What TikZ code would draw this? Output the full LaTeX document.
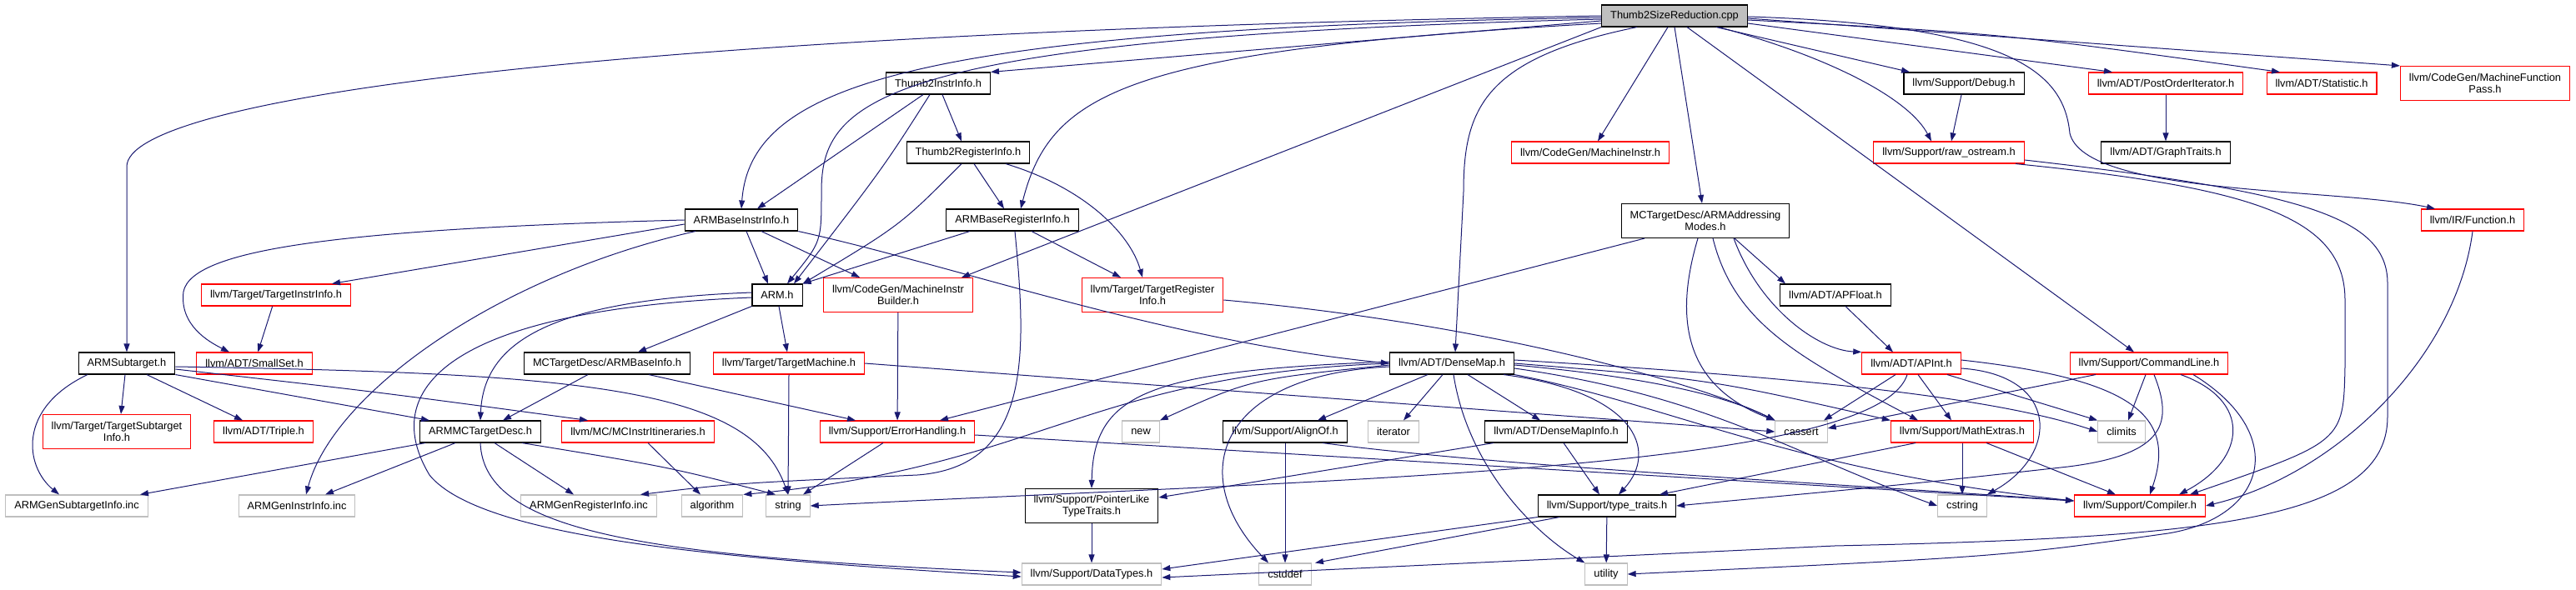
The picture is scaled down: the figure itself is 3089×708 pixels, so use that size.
\documentclass[tikz,border=0pt]{standalone}
\usepackage{fontspec}
\setmainfont{Liberation Sans}
\usetikzlibrary{arrows.meta}
\definecolor{edgeblue}{HTML}{191970}
\definecolor{sysgray}{HTML}{BFBFBF}

\begin{document}
\begin{tikzpicture}[x=1pt,y=-1pt,
	hdr/.style={draw=black,line width=1.1pt,rectangle,minimum height=26pt,inner xsep=10.5pt,inner ysep=0pt,align=center,font=\fontsize{12.8pt}{14pt}\selectfont},
	trunc/.style={hdr,draw=red},
	syshdr/.style={hdr,draw=sysgray},
	root/.style={hdr,fill=sysgray},
	twoline/.style={minimum height=41pt},
	dep/.style={draw=edgeblue,line width=1pt,-{Triangle[length=10pt,width=7pt]}}]
	\useasboundingbox (0,0) rectangle (3089,708);

	\node[root] (T) at (2008,19) {Thumb2SizeReduction.cpp};
	\node[hdr] (t2ii) at (1125,100) {Thumb2InstrInfo.h};
	\node[hdr] (dbg) at (2355,100) {llvm/Support/Debug.h};
	\node[trunc] (poi) at (2597,100) {llvm/ADT/PostOrderIterator.h};
	\node[trunc] (stat) at (2784,100) {llvm/ADT/Statistic.h};
	\node[trunc,twoline] (mfp) at (2980,100) {llvm/CodeGen/MachineFunction\\Pass.h};
	\node[hdr] (t2ri) at (1161,183) {Thumb2RegisterInfo.h};
	\node[trunc] (mi) at (1907,183) {llvm/CodeGen/MachineInstr.h};
	\node[trunc] (raw) at (2337,183) {llvm/Support/raw\_ostream.h};
	\node[hdr] (gt) at (2597,183) {llvm/ADT/GraphTraits.h};
	\node[hdr] (bii) at (889,264) {ARMBaseInstrInfo.h};
	\node[hdr] (bri) at (1214,264) {ARMBaseRegisterInfo.h};
	\node[hdr,twoline] (addr) at (2045,265) {MCTargetDesc/ARMAddressing\\Modes.h};
	\node[trunc] (fn) at (2965,264) {llvm/IR/Function.h};
	\node[trunc] (tii) at (331,354) {llvm/Target/TargetInstrInfo.h};
	\node[hdr] (arm) at (932,354) {ARM.h};
	\node[trunc,twoline] (mib) at (1077,354) {llvm/CodeGen/MachineInstr\\Builder.h};
	\node[trunc,twoline] (tri) at (1382,354) {llvm/Target/TargetRegister\\Info.h};
	\node[hdr] (apf) at (2201,354) {llvm/ADT/APFloat.h};
	\node[hdr] (subtgt) at (152,436) {ARMSubtarget.h};
	\node[trunc] (smallset) at (305,436) {llvm/ADT/SmallSet.h};
	\node[hdr] (binfo) at (728,436) {MCTargetDesc/ARMBaseInfo.h};
	\node[trunc] (tm) at (946,436) {llvm/Target/TargetMachine.h};
	\node[hdr] (dmap) at (1741,436) {llvm/ADT/DenseMap.h};
	\node[trunc] (apint) at (2292,436) {llvm/ADT/APInt.h};
	\node[trunc] (cl) at (2577,436) {llvm/Support/CommandLine.h};
	\node[trunc,twoline] (tsi) at (140,518) {llvm/Target/TargetSubtarget\\Info.h};
	\node[trunc] (triple) at (316,518) {llvm/ADT/Triple.h};
	\node[hdr] (mctd) at (576,518) {ARMMCTargetDesc.h};
	\node[trunc] (itin) at (765,518) {llvm/MC/MCInstrItineraries.h};
	\node[trunc] (eh) at (1076,518) {llvm/Support/ErrorHandling.h};
	\node[syshdr] (new) at (1368,518) {new};
	\node[hdr] (align) at (1541,518) {llvm/Support/AlignOf.h};
	\node[syshdr] (iter) at (1671,518) {iterator};
	\node[hdr] (dmi) at (1866,518) {llvm/ADT/DenseMapInfo.h};
	\node[syshdr] (cassert) at (2160,518) {cassert};
	\node[trunc] (mext) at (2353,518) {llvm/Support/MathExtras.h};
	\node[syshdr] (climits) at (2544,518) {climits};
	\node[syshdr] (gensub) at (92,607) {ARMGenSubtargetInfo.inc};
	\node[syshdr] (geninstr) at (356,607) {ARMGenInstrInfo.inc};
	\node[syshdr] (genreg) at (706,607) {ARMGenRegisterInfo.inc};
	\node[syshdr] (algo) at (854,607) {algorithm};
	\node[syshdr] (str) at (945,607) {string};
	\node[hdr,twoline] (plt) at (1309,607) {llvm/Support/PointerLike\\TypeTraits.h};
	\node[hdr] (tt) at (1927,607) {llvm/Support/type\_traits.h};
	\node[syshdr] (cstring) at (2353,607) {cstring};
	\node[trunc] (comp) at (2566,607) {llvm/Support/Compiler.h};
	\node[syshdr] (dt) at (1309,689) {llvm/Support/DataTypes.h};
	\node[syshdr] (cstddef) at (1541,689) {cstddef};
	\node[syshdr] (util) at (1926,689) {utility};

	\draw[dep] (T.west) .. controls (700,40) and (152,120) .. (152,200) -- (subtgt);
	\draw[dep] ([yshift=-2]T.west) .. controls (1100,35) and (900,100) .. (bii.north);
	\draw[dep] ([yshift=-4]T.west) .. controls (1050,45) and (985,120) .. (985,230) .. controls (985,290) .. ([xshift=12]arm.north);
	\draw[dep] ([yshift=-6]T.west) -- (t2ii.north east);
	\draw[dep] ([yshift=-9]T.west) .. controls (1350,60) and (1260,110) .. ([xshift=10]bri.north);
	\draw[dep] (T.south west) -- ([xshift=76]mib.north);
	\draw[dep] ([xshift=-45]T.south) .. controls (1780,70) and (1755,130) .. (1755,230) -- ([xshift=4]dmap.north);
	\draw[dep] ([xshift=-8]T.south) -- ([xshift=9]mi.north);
	\draw[dep] (T.south) -- ([xshift=-4]addr.north);
	\draw[dep] ([xshift=15]T.south) -- ([xshift=-18]cl.north);
	\draw[dep] ([xshift=50]T.south) -- ([xshift=-65]dbg.north);
	\draw[dep] ([xshift=53]T.south) .. controls (2200,70) and (2290,120) .. ([xshift=-21]raw.north);
	\draw[dep] ([yshift=-9]T.east) -- ([xshift=-64]poi.north);
	\draw[dep] ([yshift=-5]T.east) .. controls (2400,40) .. ([xshift=-50]stat.north);
	\draw[dep] ([yshift=-3]T.east) -- (mfp.north west);
	\draw[dep] ([yshift=-1]T.east) .. controls (2420,30) and (2475,90) .. (2482,160) .. controls (2500,235) and (2800,225) .. ([xshift=-45]fn.north);

	\draw[dep] ([xshift=-18]t2ii.south) -- ([xshift=19]bii.north);
	\draw[dep] ([xshift=-10]t2ii.south) .. controls (1060,200) .. ([xshift=20]arm.north);
	\draw[dep] ([xshift=5]t2ii.south) -- ([xshift=-8]t2ri.north);
	\draw[dep] ([xshift=-8]t2ri.south) .. controls (1080,270) .. (arm.north east);
	\draw[dep] ([xshift=7]t2ri.south) -- ([xshift=-10]bri.north);
	\draw[dep] ([xshift=45]t2ri.south) .. controls (1300,225) and (1355,280) .. ([xshift=-12]tri.north);

	\draw[dep] ([xshift=6]bii.south) -- ([xshift=-11]arm.north);
	\draw[dep] ([xshift=24]bii.south) -- ([xshift=-46]mib.north);
	\draw[dep] (bii.south east) .. controls (1150,320) and (1400,410) .. (dmap.west);
	\draw[dep] (bii.west) .. controls (400,275) and (230,300) .. (220,350) .. controls (215,390) and (250,410) .. ([xshift=-30]smallset.north);
	\draw[dep] ([yshift=-5]bii.west) -- ([xshift=67]tii.north);
	\draw[dep] ([xshift=-55]bii.south) .. controls (600,330) and (400,470) .. ([xshift=11]geninstr.north);
	\draw[dep] ([xshift=-51]bri.south) -- (arm.north east);
	\draw[dep] ([xshift=23]bri.south) -- ([xshift=-38]tri.north);
	\draw[dep] ([xshift=3]bri.south) .. controls (1232,430) and (1235,560) .. (1100,570) .. controls (880,580) .. ([xshift=62]genreg.north);

	\draw[dep] (arm.south west) -- ([xshift=37]binfo.north);
	\draw[dep] ([yshift=3]arm.west) .. controls (660,360) and (580,410) .. (mctd.north);
	\draw[dep] ([yshift=-3]arm.west) .. controls (530,372) and (455,470) .. (515,570) .. controls (580,650) and (900,672) .. ([yshift=-3]dt.west);
	\draw[dep] ([xshift=2]arm.south) -- ([xshift=-2]tm.north);
	\draw[dep] ([xshift=-23]binfo.south) -- ([xshift=27]mctd.north);
	\draw[dep] ([xshift=50]binfo.south) -- ([xshift=-50]eh.north);
	\draw[dep] (tii) -- (smallset);

	\draw[dep] ([xshift=-2]subtgt.south) -- ([xshift=5]tsi.north);
	\draw[dep] ([xshift=24]subtgt.south) -- ([xshift=-25]triple.north);
	\draw[dep] ([xshift=-47]subtgt.south) .. controls (20,490) and (30,560) .. ([xshift=-21]gensub.north);
	\draw[dep] (subtgt.south east) -- ([xshift=-61]mctd.north);
	\draw[dep] ([yshift=-7]subtgt.east) .. controls (450,470) .. ([xshift=-60]itin.north);
	\draw[dep] ([yshift=-4]subtgt.east) .. controls (700,448) and (900,465) .. (str.north);

	\draw[dep] ([xshift=-66]mctd.south) -- ([xshift=76]gensub.north);
	\draw[dep] ([xshift=-30]mctd.south) -- ([xshift=34]geninstr.north);
	\draw[dep] ([xshift=17]mctd.south) -- ([xshift=-18]genreg.north);
	\draw[dep] ([xshift=50]mctd.south) .. controls (800,560) .. ([xshift=-15]str.north);
	\draw[dep] (mctd.south) .. controls (580,640) and (780,668) .. ([yshift=2]dt.west);
	\draw[dep] ([xshift=12]itin.south) -- ([xshift=-14]algo.north);

	\draw[dep] (tm.south) -- (str.north);
	\draw[dep] (tm.east) -- (cassert.west);
	\draw[dep] ([yshift=-6]tri.east) .. controls (1800,390) and (2050,465) .. (cassert.north west);
	\draw[dep] (mib) -- (eh);
	\draw[dep] ([xshift=-17]eh.south) -- ([xshift=18]str.north);
	\draw[dep] ([yshift=-4]eh.east) -- ([yshift=6]comp.west);

	\draw[dep] ([xshift=-73]addr.south) -- ([xshift=51]eh.north);
	\draw[dep] ([xshift=-9]addr.south) .. controls (2005,390) and (2025,465) .. (cassert.north west);
	\draw[dep] ([xshift=9]addr.south) .. controls (2080,390) and (2160,430) .. ([xshift=-53]mext.north);
	\draw[dep] ([xshift=34]addr.south) .. controls (2110,370) and (2180,420) .. (apint.north west);
	\draw[dep] ([xshift=35]addr.south) -- ([xshift=-60]apf.north);
	\draw[dep] ([xshift=12]apf.south) -- ([xshift=-22]apint.north);

	\draw[dep] ([xshift=-19]apint.south) -- ([xshift=27]cassert.north);
	\draw[dep] ([xshift=8]apint.south) -- ([xshift=-13]mext.north);
	\draw[dep] ([xshift=43]apint.south) -- (climits.north west);
	\draw[dep] ([yshift=-6]apint.east) .. controls (2470,450) and (2470,545) .. (cstring.north east);
	\draw[dep] ([yshift=4]apint.east) .. controls (2560,455) and (2610,500) .. ([xshift=12]comp.north);
	\draw[dep] ([xshift=-5]apint.south) .. controls (2250,565) and (1600,575) .. (str.east);
	\draw[dep] (mext) -- (cstring);
	\draw[dep] ([xshift=29]mext.south) -- ([xshift=-29]comp.north);
	\draw[dep] ([xshift=-56]mext.south) -- ([xshift=63]tt.north);

	\draw[dep] ([xshift=-64]cl.south) -- ([yshift=4]cassert.east);
	\draw[dep] ([xshift=-4]cl.south) -- ([xshift=8]climits.north);
	\draw[dep] ([xshift=6]cl.south) .. controls (2605,505) and (2600,545) .. (2480,560) .. controls (2300,580) .. (tt.east);
	\draw[dep] ([xshift=38]cl.south) .. controls (2700,480) and (2695,550) .. ([xshift=47]comp.north);
	\draw[dep] ([xshift=53]cl.south) .. controls (2745,520) and (2720,620) .. (2600,640) .. controls (2400,668) .. (util.east);

	\draw[dep] (dbg) -- (raw);
	\draw[dep] (poi) -- (gt);
	\draw[dep] ([xshift=80]raw.south) .. controls (2700,225) and (2812,260) .. (2812,360) -- (2812,440) .. controls (2810,530) .. ([xshift=60]comp.north);
	\draw[dep] ([yshift=-9]raw.east) .. controls (2760,230) and (2863,260) .. (2863,340) -- (2863,500) .. controls (2863,625) and (2650,645) .. (2200,655) -- ([yshift=-4]dt.east);
	\draw[dep] (fn.south) .. controls (2945,430) and (2800,570) .. (comp.east);

	\draw[dep] ([xshift=-29]dmap.south) -- ([xshift=39]align.north);
	\draw[dep] ([xshift=-11]dmap.south) -- ([xshift=12]iter.north);
	\draw[dep] ([xshift=19]dmap.south) -- ([xshift=-19]dmi.north);
	\draw[dep] ([xshift=2]dmap.south) .. controls (1760,560) and (1840,640) .. (util.north west);
	\draw[dep] ([xshift=62]dmap.south) .. controls (1960,470) and (1990,540) .. ([xshift=14]tt.north);
	\draw[dep] ([yshift=-2]dmap.east) .. controls (1950,450) and (2060,470) .. (cassert.north west);
	\draw[dep] (dmap.east) .. controls (2050,455) .. (mext.north west);
	\draw[dep] ([yshift=4]dmap.east) .. controls (2200,455) and (2400,480) .. (climits.west);
	\draw[dep] ([yshift=-6]dmap.east) .. controls (2050,475) and (2150,545) .. (cstring.west);
	\draw[dep] (dmap.south east) .. controls (2000,485) and (2150,565) .. ([yshift=6]comp.west);
	\draw[dep] ([yshift=-4]dmap.west) .. controls (1460,450) and (1420,570) .. ([xshift=-20]cstddef.north);
	\draw[dep] ([yshift=2]dmap.west) .. controls (1380,445) and (1311,470) .. (plt.north);
	\draw[dep] ([yshift=-2]dmap.west) .. controls (1500,455) .. (new.north east);
	\draw[dep] (dmap.west) .. controls (1300,450) and (1250,560) .. (algo.north east);

	\draw[dep] ([xshift=-75]dmi.south) -- ([yshift=10]plt.east);
	\draw[dep] ([xshift=9]dmi.south) -- ([xshift=-9]tt.north);
	\draw[dep] (align) -- (cstddef);
	\draw[dep] ([xshift=45]align.south) .. controls (1800,560) and (2200,580) .. ([yshift=6]comp.west);
	\draw[dep] (plt) -- (dt);
	\draw[dep] (tt.south west) -- ([yshift=6]dt.east);
	\draw[dep] ([xshift=-57]tt.south) -- ([xshift=36]cstddef.north);
	\draw[dep] (tt) -- (util);
\end{tikzpicture}
\end{document}
